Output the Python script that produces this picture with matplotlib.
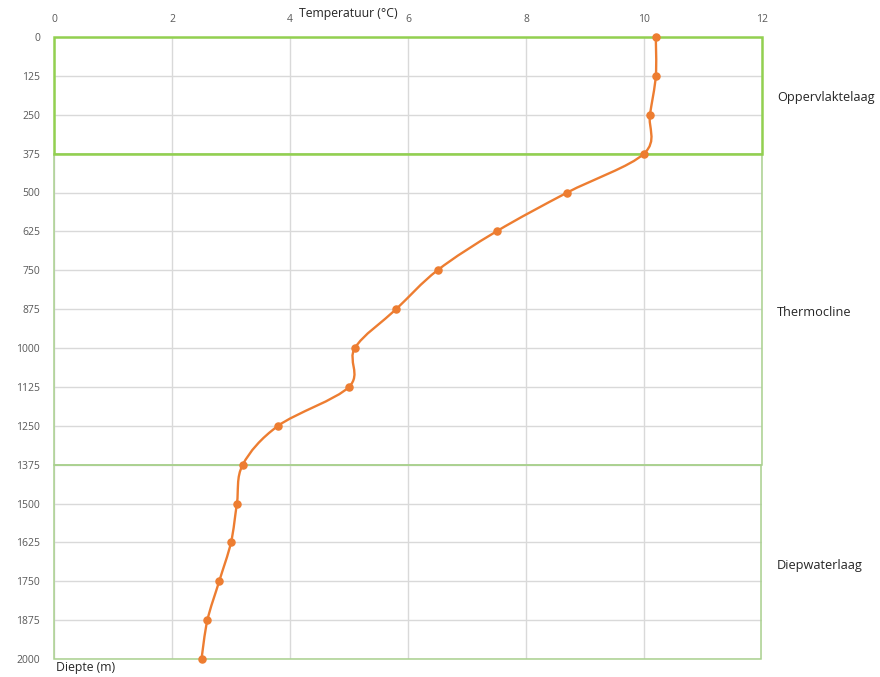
import matplotlib
matplotlib.use("Agg")
import matplotlib.pyplot as plt
import numpy as np
from matplotlib.path import Path
from matplotlib.patches import PathPatch, Rectangle

depth = [0, 125, 250, 375, 500, 625, 750, 875, 1000, 1125, 1250, 1375, 1500, 1625, 1750, 1875, 2000]
temperature = [10.2, 10.2, 10.1, 10.0, 8.7, 7.5, 6.5, 5.8, 5.1, 5.0, 3.8, 3.2, 3.1, 3.0, 2.8, 2.6, 2.5]
x_ticks = [0, 2, 4, 6, 8, 10, 12]
y_ticks = list(range(0, 2001, 125))
layer_names = ["Oppervlaktelaag", "Thermocline", "Diepwaterlaag"]

plt.rcParams['font.family'] = ['Open Sans', 'DejaVu Sans']

fig = plt.figure(figsize=(8.8, 6.77), dpi=100)
ax = fig.add_axes([54/880, 1 - 659/677, (762-54)/880, (659-37)/677])
ax.set_xlim(0, 12)
ax.set_ylim(2000, 0)
ax.set_xticks(x_ticks)
ax.set_yticks(y_ticks)
ax.xaxis.tick_top()
ax.tick_params(axis='both', length=0, labelsize=7.5, labelcolor='#595959')
ax.tick_params(axis='x', pad=9)
ax.tick_params(axis='y', pad=10)
ax.grid(True, color='#d9d9d9', linewidth=1)
ax.set_axisbelow(True)
for s in ax.spines.values():
    s.set_visible(False)

green = '#92D050'
light_green = '#A9D18E'
# layer boxes
ax.add_patch(Rectangle((0, 375), 12, 1000, fill=False, edgecolor=light_green, linewidth=1.1, zorder=3, clip_on=False))
ax.add_patch(Rectangle((0, 1375), 11.98, 625, fill=False, edgecolor=light_green, linewidth=1.1, zorder=3, clip_on=False))
ax.add_patch(Rectangle((0, 0), 12, 375, fill=False, edgecolor=green, linewidth=1.8, zorder=3, clip_on=False))

# smoothed line (Catmull-Rom style bezier, like Excel smoothing)
pts = np.column_stack([temperature, depth]).astype(float)
n = len(pts)
verts = [pts[0]]
codes = [Path.MOVETO]
for i in range(n - 1):
    p0 = pts[i - 1] if i > 0 else pts[i]
    p1 = pts[i]
    p2 = pts[i + 1]
    p3 = pts[i + 2] if i + 2 < n else pts[i + 1]
    c1 = p1 + (p2 - p0) / 6
    c2 = p2 - (p3 - p1) / 6
    verts += [c1, c2, p2]
    codes += [Path.CURVE4] * 3
ax.add_patch(PathPatch(Path(verts, codes), fill=False, edgecolor='#ED7D31', linewidth=1.7, zorder=4, clip_on=False))
ax.scatter(temperature, depth, s=26, color='#ED7D31', zorder=5, clip_on=False)

fig.text(348/880, 1 - 14/677, "Temperatuur (°C)", ha='center', va='center', fontsize=8.8, color='#262626')
fig.text(56/880, 1 - 668/677, "Diepte (m)", ha='left', va='center', fontsize=8.8, color='#262626')

label_y = [98, 312, 565]
for name, yy in zip(layer_names, label_y):
    fig.text(777/880, 1 - yy/677, name, ha='left', va='center', fontsize=9.2, color='#262626')

fig.savefig('out.png', dpi=100, facecolor='white')
